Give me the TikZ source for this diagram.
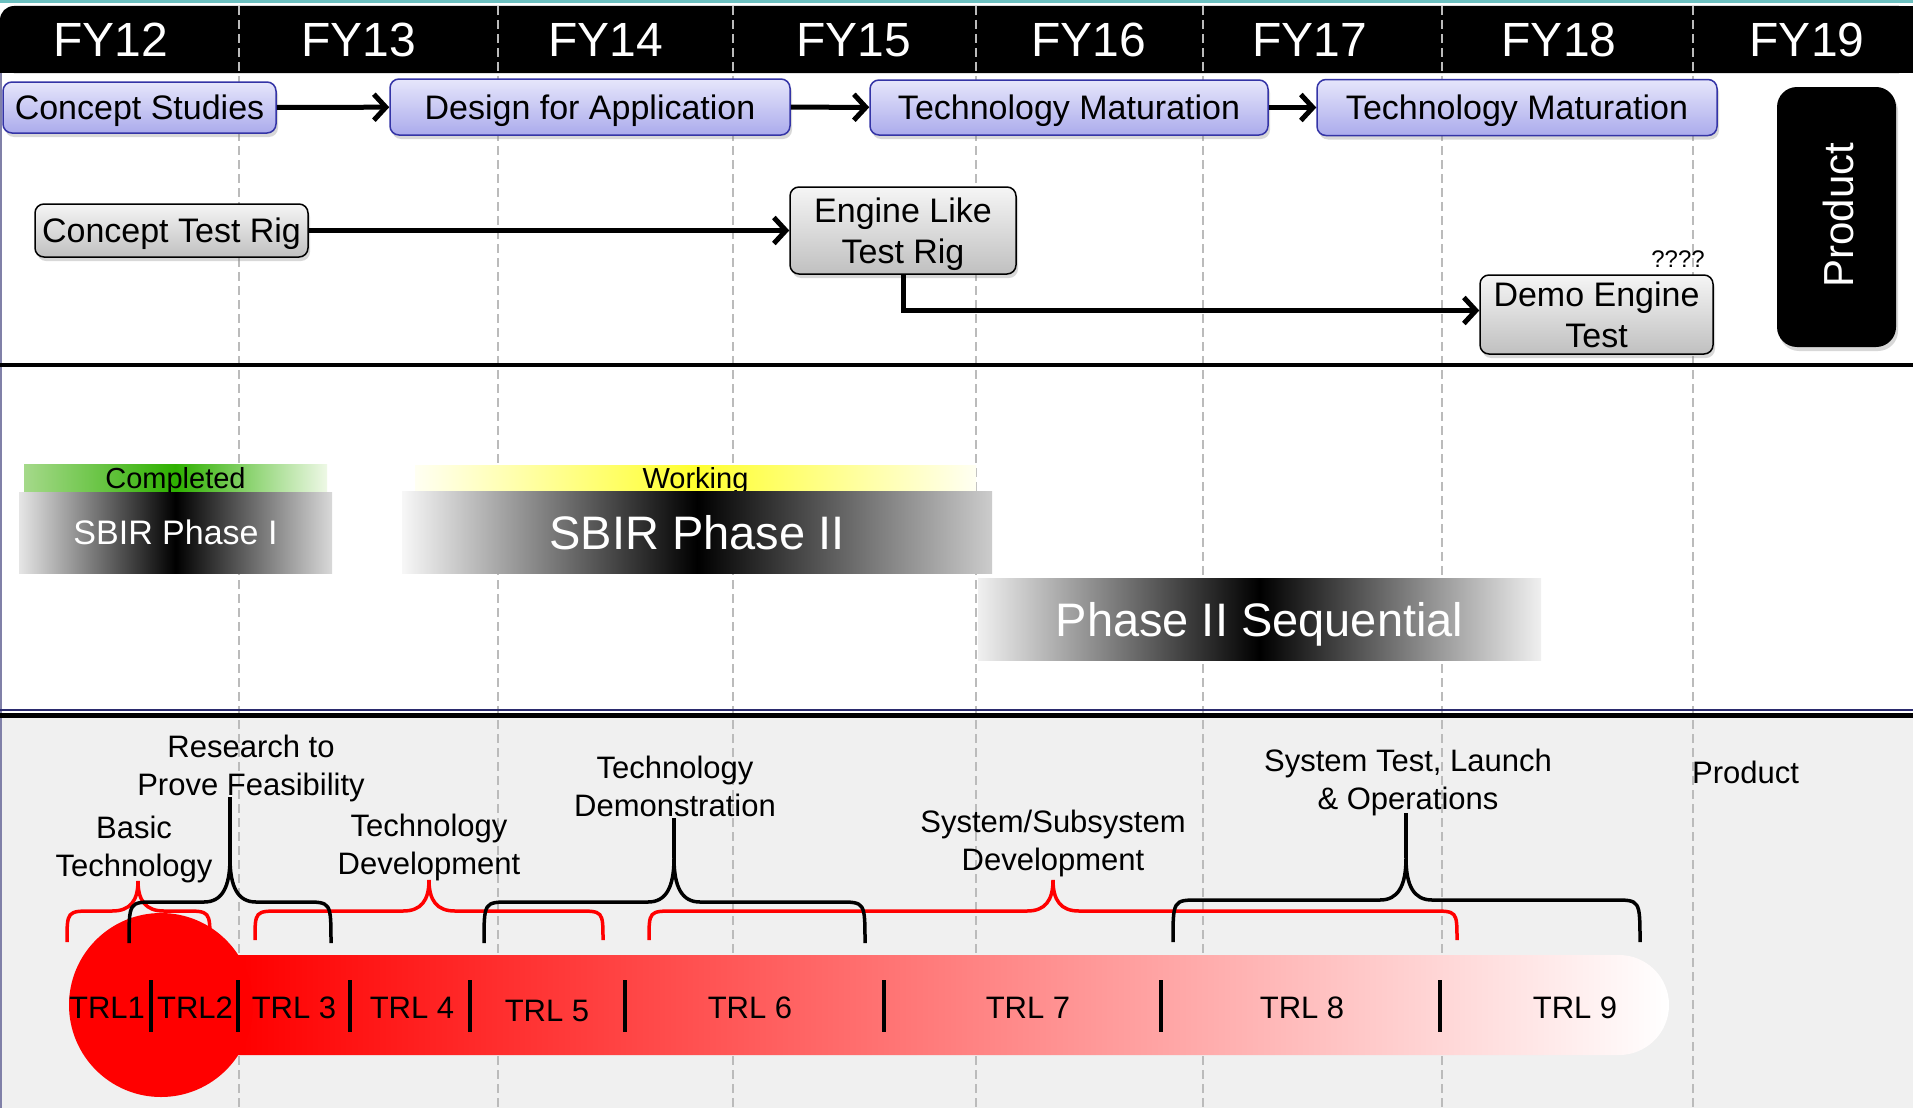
\documentclass[tikz,border=0pt]{standalone}
\usepackage{fontspec}
\setmainfont{Liberation Sans}
\usetikzlibrary{arrows.meta,shadows}
\definecolor{tealline}{HTML}{6CC0C0}
\definecolor{lavtop}{HTML}{E6E6FB}
\definecolor{lavbot}{HTML}{ABABEC}
\definecolor{lavborder}{HTML}{3434A6}
\definecolor{rigtop}{HTML}{F5F5F5}
\definecolor{rigbot}{HTML}{C0C0C0}
\definecolor{dashgrey}{HTML}{BBBBBB}
\definecolor{panelgrey}{HTML}{F0F0F0}
\definecolor{navyline}{HTML}{2B2B6E}
\definecolor{donegreen}{HTML}{2EB000}
\definecolor{doneleft}{HTML}{A5D98A}
\definecolor{doneright}{HTML}{EEF8E6}
\definecolor{workyellow}{HTML}{FFFF2E}
\definecolor{workedge}{HTML}{FFFFF2}
\pgfdeclarehorizontalshading{trlshade}{100bp}{color(0bp)=(red); color(27.7bp)=(red); color(75bp)=(white); color(100bp)=(white)}
\newcommand\myfs[2]{\fontsize{#1}{#2}\selectfont}
% #1 style, #2 xL, #3 xR, #4 xTip, #5 y horizontal, #6 y tip, #7 y ends
\newcommand\trlbrace[7]{%
  \draw[#1] (#2,#7) .. controls (#2,#5) .. ({#2+26},#5)
    -- ({#4-26},#5) .. controls ({#4-8},#5) and (#4,{#5-(#5-#6)/3}) .. (#4,#6)
    .. controls (#4,{#5-(#5-#6)/3}) and ({#4+8},#5) .. ({#4+26},#5)
    -- ({#3-26},#5) .. controls (#3,#5) .. (#3,#7);}
\begin{document}
\begin{tikzpicture}[x=1pt,y=-1pt,
  phasebox/.style={draw=lavborder, line width=1.5pt, rounded corners=9pt, top color=lavtop, bottom color=lavbot, font=\myfs{34}{40}, inner sep=0pt, text depth=0pt, drop shadow={shadow xshift=2pt,shadow yshift=-4pt,opacity=0.3}},
  rigbox/.style={draw=black, line width=1.5pt, rounded corners=9pt, top color=rigtop, bottom color=rigbot, font=\myfs{34}{41}, align=center, inner sep=0pt, text depth=0pt, drop shadow={shadow xshift=2pt,shadow yshift=-4pt,opacity=0.3}},
  prodbox/.style={fill=black, rounded corners=20pt, text=white, font=\myfs{42}{46}, inner sep=0pt, drop shadow={shadow xshift=2pt,shadow yshift=-4pt,opacity=0.3}},
  yearlbl/.style={text=white, font=\myfs{48}{52}, inner sep=0pt},
  flowarrow/.style={line width=5pt, -{Straight Barb[length=12pt,width=26pt]}},
  phasebar/.style={inner sep=0pt, text=white, text depth=0pt},
  bandlbl/.style={inner sep=0pt, font=\myfs{29}{32}, text depth=0pt},
  trllbl/.style={inner sep=0pt, font=\myfs{31}{34}},
  stagelbl/.style={inner sep=0pt, font=\myfs{31}{38}, align=center},
  trldiv/.style={line width=4pt},
  redbrace/.style={draw=red, line width=3.5pt},
  blackbrace/.style={draw=black, line width=3.5pt},
  yeardash/.style={draw=dashgrey, line width=1.5pt, dash pattern=on 9pt off 5pt}
]
\useasboundingbox (0,0) rectangle (1913,1108);
\fill[white] (0,0) rectangle (1913,1108);
\fill[tealline] (0,0) rectangle (1913,3);
% header band
\fill[black, rounded corners=14pt] (0,6) rectangle (1913,73);
\fill[black] (20,6) rectangle (1913,73);
\fill[black] (0,40) rectangle (20,73);
% lower panel
\fill[panelgrey] (0,717) rectangle (1913,1108);
\draw[navyline!60, line width=1.5pt] (0.75,73) -- (0.75,1108);
% year dividers
\foreach \x in {239,498,733,976,1203,1442,1693}
  \draw[yeardash] (\x,6) -- (\x,1108);
% separators
\draw[line width=4.5pt] (0,365) -- (1913,365);
\draw[navyline, line width=2pt] (0,710) -- (1913,710);
\draw[line width=5pt] (0,715) -- (1913,715);
% years
\node[yearlbl] (fy12) at (111,40) {FY12};
\node[yearlbl] (fy13) at (359,40) {FY13};
\node[yearlbl] (fy14) at (606,40) {FY14};
\node[yearlbl] (fy15) at (854,40) {FY15};
\node[yearlbl] (fy16) at (1089,40) {FY16};
\node[yearlbl] (fy17) at (1310,40) {FY17};
\node[yearlbl] (fy18) at (1559,40) {FY18};
\node[yearlbl] (fy19) at (1807,40) {FY19};
% phase boxes
\node[phasebox, minimum width=273pt, minimum height=51pt] (cs) at (139.5,107.5) {Concept Studies};
\node[phasebox, minimum width=400pt, minimum height=56pt] (dfa) at (590,107) {Design for Application};
\node[phasebox, minimum width=398pt, minimum height=55pt] (tm1) at (1069,107.5) {Technology Maturation};
\node[phasebox, minimum width=400pt, minimum height=56pt] (tm2) at (1517,107.5) {Technology Maturation};
\draw[flowarrow] (cs) -- (dfa);
\draw[flowarrow] (dfa) -- (tm1);
\draw[flowarrow] (tm1) -- (tm2);
% rigs
\node[rigbox, minimum width=273pt, minimum height=53pt] (ctr) at (171.5,230.5) {Concept Test Rig};
\node[rigbox, minimum width=226pt, minimum height=87pt] (elr) at (903,230.5) {Engine Like\\Test Rig};
\node[rigbox, minimum width=233pt, minimum height=79pt] (det) at (1596.5,314.5) {Demo Engine\\Test};
\node[inner sep=0pt, font=\myfs{24}{26}] (qm) at (1678,259) {????};
\draw[flowarrow] (ctr) -- (elr);
\draw[flowarrow] (elr.south) |- ([yshift=4pt]det.west);
% product
\node[prodbox, minimum width=119pt, minimum height=260pt] (prod) at (1836.5,217) {};
\node[text=white, font=\myfs{42}{46}, inner sep=0pt, rotate=90] (prodtxt) at (1838,215) {Product};
% SBIR bars
\node[bandlbl, minimum width=303pt, minimum height=28pt, left color=doneleft, right color=doneright, middle color=donegreen] (done) at (175.5,478) {Completed};
\node[bandlbl, minimum width=561pt, minimum height=26pt, left color=workedge, right color=workedge, middle color=workyellow] (work) at (695.5,478) {Working};
\node[phasebar, minimum width=313pt, minimum height=81pt, left color=black!10, right color=black!15, middle color=black, font=\myfs{34}{38}] (sb1) at (175.5,532.5) {SBIR Phase I};
\node[phasebar, minimum width=590pt, minimum height=82pt, left color=black!3, right color=black!20, middle color=black, font=\myfs{47}{50}] (sb2) at (697,532) {SBIR Phase II};
\node[phasebar, minimum width=563pt, minimum height=82pt, left color=black!6, right color=black!6, middle color=black, font=\myfs{47}{50}] (sb3) at (1259.5,619) {Phase II Sequential};
% TRL bar
\shade[shading=trlshade, rounded corners=50pt] (161,955) rectangle (1669,1055);
\fill[red] (161,1005) circle[radius=92pt];
\foreach \x in {151,238,350,470,625,884,1161,1440}
  \draw[trldiv] (\x,980) -- (\x,1032);
\node[trllbl] (trl1) at (107,1008) {TRL1};
\node[trllbl] (trl2) at (195,1008) {TRL2};
\node[trllbl] (trl3) at (294,1008) {TRL 3};
\node[trllbl] (trl4) at (412,1008) {TRL 4};
\node[trllbl] (trl5) at (547,1011) {TRL 5};
\node[trllbl] (trl6) at (750,1008) {TRL 6};
\node[trllbl] (trl7) at (1028,1008) {TRL 7};
\node[trllbl] (trl8) at (1302,1008) {TRL 8};
\node[trllbl] (trl9) at (1575,1008) {TRL 9};
% braces
\trlbrace{redbrace}{67}{210}{138}{911}{881}{942}
\trlbrace{redbrace}{255}{603}{429}{911}{880}{940}
\trlbrace{redbrace}{649}{1457}{1053}{911}{880}{940}
\trlbrace{blackbrace}{129}{331}{230}{902}{858}{943}
\trlbrace{blackbrace}{484}{865}{674}{902}{858}{943}
\trlbrace{blackbrace}{1173}{1640}{1406}{900}{858}{942}
\coordinate (tipa) at (230,858);
\coordinate (stema) at (230,797);
\coordinate (tipb) at (674,858);
\coordinate (stemb) at (674,818);
\coordinate (tipc) at (1406,858);
\coordinate (stemc) at (1406,813);
\draw[blackbrace] (tipa) -- (stema);
\draw[blackbrace] (tipb) -- (stemb);
\draw[blackbrace] (tipc) -- (stemc);
% stage labels
\node[stagelbl] (basic) at (134,849) {Basic\\Technology};
\node[stagelbl] (research) at (251,768) {Research to\\Prove Feasibility};
\node[stagelbl] (techdev) at (429,847) {Technology\\Development};
\node[stagelbl] (techdemo) at (675,786) {Technology\\Demonstration};
\node[stagelbl] (sysdev) at (1053,843) {System/Subsystem\\Development};
\node[stagelbl] (systest) at (1408,782) {System Test, Launch\\\& Operations};
\node[stagelbl, anchor=west] (prodlbl) at (1692,772) {Product};
\end{tikzpicture}
\end{document}
